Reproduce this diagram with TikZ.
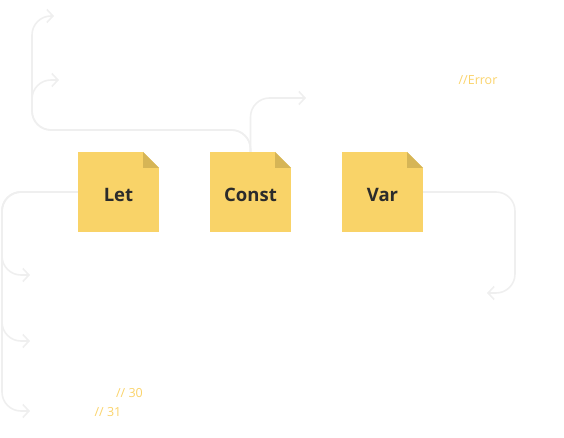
\documentclass[tikz,border=0pt]{standalone}
\usepackage{fontspec}
\setmainfont{Open Sans}
\usepackage{tikz}
\usetikzlibrary{arrows.meta}
\usepackage{xcolor}
\definecolor{notefill}{HTML}{F9D368}
\definecolor{notefold}{HTML}{D6B556}
\definecolor{notetext}{HTML}{2B2B2B}
\definecolor{flowgray}{HTML}{EFEFEF}
\definecolor{remark}{HTML}{FAD36A}

\tikzset{
  note/.style={fill=notefill,minimum width=81pt,minimum height=80pt,inner sep=0pt,
    label={[notelabel]center:#1},
    path picture={
      \fill[white] (path picture bounding box.north east) -- ++(-16pt,0) -- ++(16pt,-16pt) -- cycle;
      \fill[notefold] ([xshift=-16pt]path picture bounding box.north east) -- ++(0,-16pt) -- ++(16pt,0) -- cycle;
    }},
  notelabel/.style={text=notetext,font=\fontsize{18.5}{22}\selectfont\bfseries,
    inner sep=0pt,yshift=-3pt},
  flow/.style={draw=flowgray,line width=1.6pt,rounded corners=19pt,
    -{Straight Barb[length=6pt,width=13pt]}},
  remark/.style={text=remark,font=\fontsize{12.5}{15}\selectfont,inner sep=0pt}
}

\begin{document}
\begin{tikzpicture}[x=1pt,y=-1pt]
\useasboundingbox (0,0) rectangle (564,438);
\node[note=Let] at (118.5,192) (let) {};
\node[note=Const] at (250.5,192) (const) {};
\node[note=Var] at (382.5,192) (var) {};
\node[remark] at (478,80) (err) {//Error};
\node[remark] at (129.5,393) (thirty) {// 30};
\node[remark] at (108,412) (thirtyone) {// 31};
% free ends
\coordinate (topturn) at (32,130);
\coordinate (upA) at (54,16);
\coordinate (upB) at (59,80);
\coordinate (upC) at (306,98);
\coordinate (varturn) at (515,293);
\coordinate (varout) at (487,293);
\coordinate (downA) at (2,275);
\coordinate (downB) at (2,341);
\coordinate (downC) at (2,411);
\coordinate (outA) at (30,275);
\coordinate (outB) at (30,341);
\coordinate (outC) at (30,411);
\draw[flow] (const.north) |- (topturn) |- (upA);
\draw[flow] (const.north) |- (topturn) |- (upB);
\draw[flow] (const.north) |- (upC);
\draw[flow] (var.east) -| (varturn) -- (varout);
\draw[flow] (let.west) -| (downA) -- (outA);
\draw[flow] (let.west) -| (downB) -- (outB);
\draw[flow] (let.west) -| (downC) -- (outC);
\end{tikzpicture}
\end{document}
